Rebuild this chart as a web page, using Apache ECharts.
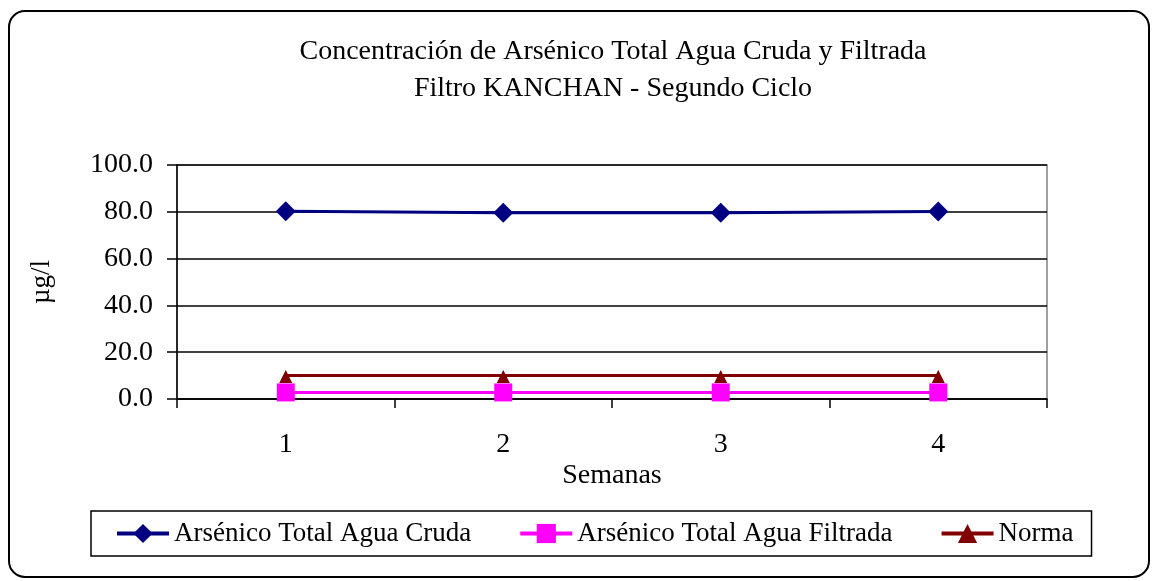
<!DOCTYPE html>
<html>
<head>
<meta charset="utf-8">
<script src="https://cdn.jsdelivr.net/npm/echarts@6/dist/echarts.min.js"></script>
<style>
  html, body { margin: 0; padding: 0; background: #fff; }
  #chart { width: 1157px; height: 581px; }
</style>
</head>
<body>
<div id="chart"></div>
<script>
// datos
const semanas = ['1', '2', '3', '4']
const aguaCruda = [80.2, 79.6, 79.6, 80.1]
const aguaFiltrada = [2.8, 2.8, 2.8, 2.8]
const norma = [10, 10, 10, 10]
const yTicks = [0, 20, 40, 60, 80, 100]

const serif = 'Liberation Serif, Times New Roman, serif'

const chart = echarts.init(document.getElementById('chart'))

chart.setOption({
  animation: false,
  backgroundColor: '#fff',
  textStyle: { fontFamily: serif, color: '#000' },
  title: {
    text: 'Concentración de Arsénico Total Agua Cruda y Filtrada\nFiltro KANCHAN - Segundo Ciclo',
    left: 608,
    top: 28,
    textAlign: 'center',
    textStyle: {
      fontFamily: serif,
      fontWeight: 'normal',
      fontSize: 28,
      lineHeight: 37,
      color: '#000'
    }
  },
  graphic: [
    {
      type: 'rect',
      shape: { x: 9, y: 11, width: 1140, height: 566, r: 16 },
      style: { fill: 'none', stroke: '#000', lineWidth: 2 },
      silent: true
    }
  ],
  legend: {
    left: 91,
    top: 511,
    borderColor: '#000',
    borderWidth: 1.5,
    padding: [9, 18, 9, 24],
    itemGap: 47,
    itemWidth: 52,
    itemHeight: 24,
    lineStyle: { width: 4 },
    textStyle: { fontFamily: serif, fontSize: 27, color: '#000' }
  },
  grid: {
    left: 177,
    right: 110,
    top: 165,
    bottom: 182,
    show: true,
    borderColor: '#808080',
    borderWidth: 1.5
  },
  xAxis: {
    type: 'category',
    data: semanas,
    boundaryGap: true,
    name: 'Semanas',
    nameLocation: 'middle',
    nameGap: 63,
    nameTextStyle: { fontFamily: serif, fontSize: 28, color: '#000' },
    axisLine: { lineStyle: { color: '#000', width: 1.5 } },
    axisTick: { show: true, length: 9, lineStyle: { color: '#000', width: 1.5 } },
    axisLabel: { fontFamily: serif, fontSize: 28, color: '#000', margin: 32 }
  },
  yAxis: {
    type: 'value',
    min: 0,
    max: 100,
    interval: 20,
    name: 'µg/l',
    nameLocation: 'middle',
    nameRotate: 90,
    nameGap: 122,
    nameTextStyle: { fontFamily: serif, fontSize: 27, color: '#000' },
    axisLine: { show: true, lineStyle: { color: '#000', width: 1.5 } },
    axisTick: { show: true, length: 10, lineStyle: { color: '#000', width: 1.5 } },
    axisLabel: {
      fontFamily: serif,
      fontSize: 28,
      color: '#000',
      margin: 24,
      formatter: v => (yTicks.includes(v) ? v.toFixed(1) : '')
    },
    splitLine: { show: true, lineStyle: { color: '#000', width: 1.5 } }
  },
  series: [
    {
      name: 'Arsénico Total Agua Cruda',
      type: 'line',
      data: aguaCruda,
      symbol: 'diamond',
      symbolSize: 20,
      lineStyle: { color: '#000080', width: 3 },
      itemStyle: { color: '#000080' }
    },
    {
      name: 'Arsénico Total Agua Filtrada',
      type: 'line',
      data: aguaFiltrada,
      symbol: 'rect',
      symbolSize: 18,
      lineStyle: { color: '#FF00FF', width: 3 },
      itemStyle: { color: '#FF00FF' }
    },
    {
      name: 'Norma',
      type: 'line',
      data: norma,
      symbol: 'triangle',
      symbolSize: 13,
      symbolOffset: [0, 1],
      lineStyle: { color: '#800000', width: 3 },
      itemStyle: { color: '#800000' }
    }
  ]
})

window.addEventListener('resize', () => chart.resize())
</script>
</body>
</html>
